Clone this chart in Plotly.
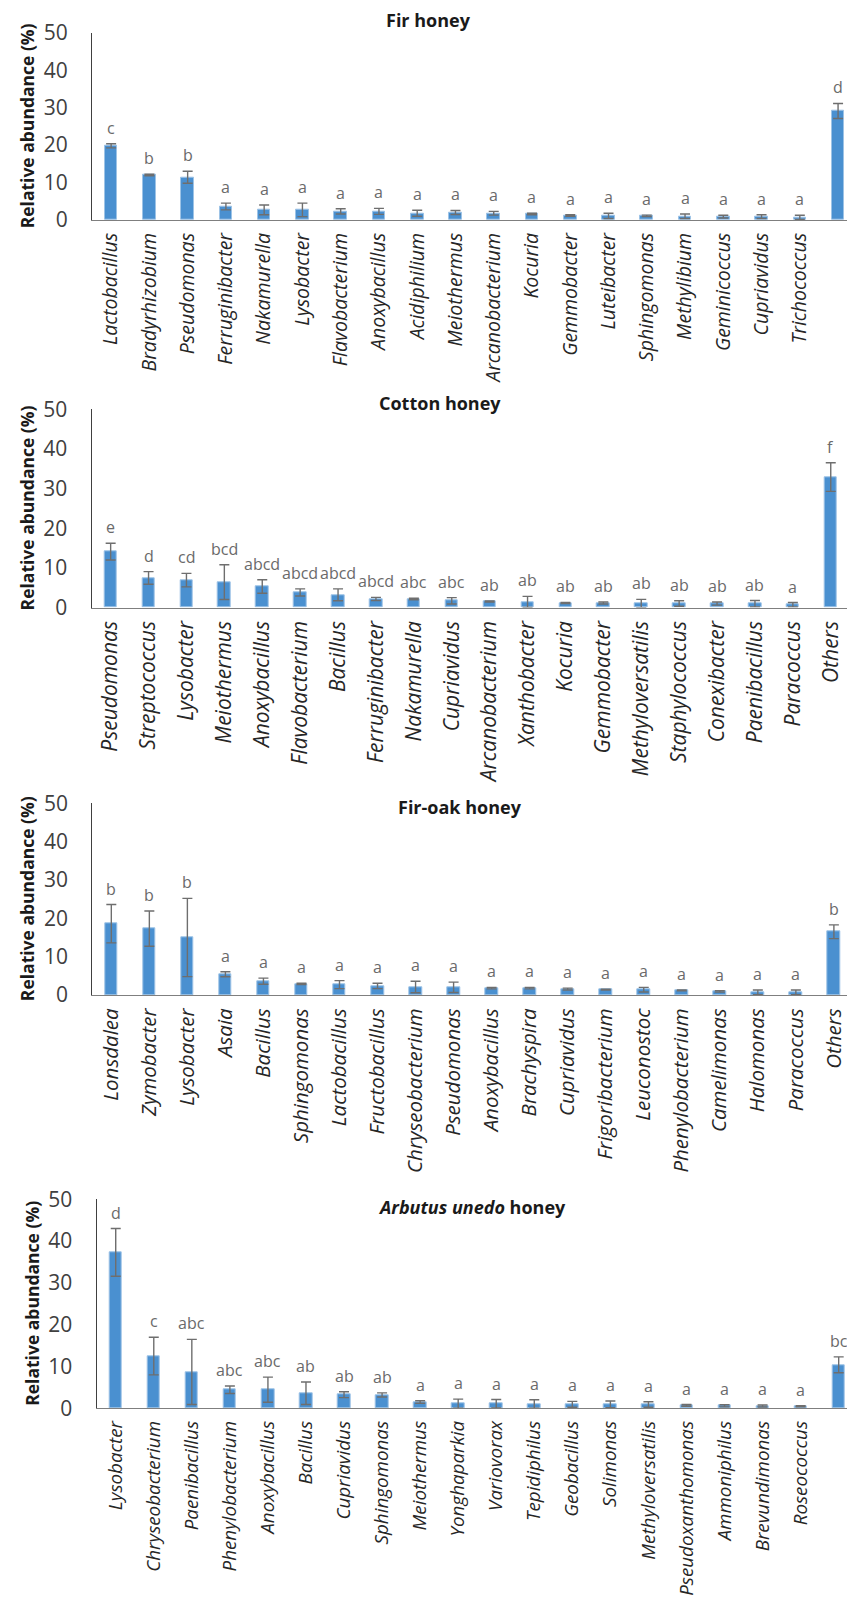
import plotly.graph_objects as go

# ---------------- data ----------------
fir_genera = ["Lactobacillus", "Bradyrhizobium", "Pseudomonas", "Ferruginibacter", "Nakamurella",
              "Lysobacter", "Flavobacterium", "Anoxybacillus", "Acidiphilium", "Meiothermus",
              "Arcanobacterium", "Kocuria", "Gemmobacter", "Luteibacter", "Sphingomonas",
              "Methylibium", "Geminicoccus", "Cupriavidus", "Trichococcus", "Others"]
fir_mean = [19.8, 12.0, 11.4, 3.6, 2.7, 2.7, 2.3, 2.3, 1.8, 2.0,
            1.8, 1.6, 1.2, 1.1, 1.1, 1.0, 0.9, 0.9, 0.7, 29.1]
fir_err = [0.55, 0.2, 1.6, 0.9, 1.3, 1.8, 0.7, 0.8, 0.8, 0.55,
           0.5, 0.2, 0.2, 0.7, 0.2, 0.6, 0.35, 0.5, 0.55, 2.0]
fir_letters = ["c", "b", "b", "a", "a", "a", "a", "a", "a", "a",
               "a", "a", "a", "a", "a", "a", "a", "a", "a", "d"]

cotton_genera = ["Pseudomonas", "Streptococcus", "Lysobacter", "Meiothermus", "Anoxybacillus",
                 "Flavobacterium", "Bacillus", "Ferruginibacter", "Nakamurella", "Cupriavidus",
                 "Arcanobacterium", "Xanthobacter", "Kocuria", "Gemmobacter", "Methyloversatilis",
                 "Staphylococcus", "Conexibacter", "Paenibacillus", "Paracoccus", "Others"]
cotton_mean = [14.1, 7.45, 6.9, 6.4, 5.3, 3.8, 3.2, 2.15, 2.15, 1.7,
               1.5, 1.4, 1.15, 1.15, 1.0, 1.0, 1.0, 0.95, 0.7, 32.9]
cotton_err = [2.1, 1.6, 1.7, 4.4, 1.7, 0.9, 1.5, 0.4, 0.2, 0.8,
              0.15, 1.4, 0.15, 0.25, 1.05, 0.7, 0.4, 0.8, 0.55, 3.6]
cotton_letters = ["e", "d", "cd", "bcd", "abcd", "abcd", "abcd", "abcd", "abc", "abc",
                  "ab", "ab", "ab", "ab", "ab", "ab", "ab", "ab", "a", "f"]

firoak_genera = ["Lonsdalea", "Zymobacter", "Lysobacter", "Asaia", "Bacillus",
                 "Sphingomonas", "Lactobacillus", "Fructobacillus", "Chryseobacterium", "Pseudomonas",
                 "Anoxybacillus", "Brachyspira", "Cupriavidus", "Frigoribacterium", "Leuconostoc",
                 "Phenylobacterium", "Camelimonas", "Halomonas", "Paracoccus", "Others"]
firoak_mean = [18.6, 17.3, 15.0, 5.4, 3.6, 2.9, 2.7, 2.35, 2.1, 2.0,
               1.8, 1.8, 1.55, 1.4, 1.4, 1.2, 0.95, 0.7, 0.7, 16.5]
firoak_err = [5.0, 4.6, 10.2, 0.65, 0.8, 0.15, 1.05, 0.7, 1.5, 1.35,
              0.2, 0.2, 0.25, 0.1, 0.6, 0.1, 0.2, 0.6, 0.6, 1.8]
firoak_letters = ["b", "b", "b", "a", "a", "a", "a", "a", "a", "a",
                  "a", "a", "a", "a", "a", "a", "a", "a", "a", "b"]

arbutus_genera = ["Lysobacter", "Chryseobacterium", "Paenibacillus", "Phenylobacterium", "Anoxybacillus",
                  "Bacillus", "Cupriavidus", "Sphingomonas", "Meiothermus", "Yonghaparkia",
                  "Variovorax", "Tepidiphilus", "Geobacillus", "Solimonas", "Methyloversatilis",
                  "Pseudoxanthomonas", "Ammoniphilus", "Brevundimonas", "Roseococcus", "Others"]
arbutus_mean = [37.3, 12.5, 8.7, 4.45, 4.45, 3.6, 3.25, 3.2, 1.5, 1.1,
                1.1, 1.05, 0.95, 0.95, 0.9, 0.7, 0.6, 0.55, 0.5, 10.4]
arbutus_err = [5.7, 4.5, 7.8, 0.9, 3.0, 2.7, 0.7, 0.5, 0.3, 1.1,
               1.0, 1.0, 0.7, 0.8, 0.65, 0.2, 0.25, 0.25, 0.15, 1.9]
arbutus_letters = ["d", "c", "abc", "abc", "abc", "ab", "ab", "ab", "a", "a",
                   "a", "a", "a", "a", "a", "a", "a", "a", "a", "bc"]

titles = ["<b>Fir honey</b>", "<b>Cotton honey</b>", "<b>Fir-oak honey</b>",
          "<b><i>Arbutus unedo</i> honey</b>"]
y_ticks = [0, 10, 20, 30, 40, 50]

# ---------------- layout geometry (pixels) ----------------
W, H = 847, 1610
FONT = "Open Sans"
panels = [
    dict(g=fir_genera, m=fir_mean, e=fir_err, l=fir_letters, y50=32.7, y0=220.0, xl=92.0, sp=38.26,
         tx=428, ty=20, yt=27, fs=19.5),
    dict(g=cotton_genera, m=cotton_mean, e=cotton_err, l=cotton_letters, y50=409.3, y0=607.5, xl=91.7, sp=37.9,
         tx=440, ty=403, yt=27, fs=21),
    dict(g=firoak_genera, m=firoak_mean, e=firoak_err, l=firoak_letters, y50=803.3, y0=995.0, xl=92.3, sp=38.03,
         tx=460, ty=807, yt=27, fs=20.5),
    dict(g=arbutus_genera, m=arbutus_mean, e=arbutus_err, l=arbutus_letters, y50=1199.3, y0=1408.3, xl=96.7, sp=38.05,
         tx=472, ty=1207, yt=32, fs=18.8),
]

fig = go.Figure()
annotations = []
layout_axes = {}

for i, p in enumerate(panels):
    n = i + 1
    xa = "x" if n == 1 else f"x{n}"
    ya = "y" if n == 1 else f"y{n}"
    fig.add_trace(go.Bar(
        x=list(range(len(p["g"]))), y=p["m"], xaxis=xa, yaxis=ya, width=0.33,
        marker=dict(color="#4a90d0", line=dict(color="#9dc3e6", width=1)),
        error_y=dict(type="data", array=p["e"], visible=True, color="#6e6e6e", thickness=1.4, width=5),
        showlegend=False, cliponaxis=False,
    ))
    xkey = "xaxis" if n == 1 else f"xaxis{n}"
    ykey = "yaxis" if n == 1 else f"yaxis{n}"
    layout_axes[xkey] = dict(
        domain=[p["xl"] / W, 1], range=[-0.5, -0.5 + (W - p["xl"]) / p["sp"]],
        anchor=ya, tickmode="array", tickvals=list(range(len(p["g"]))),
        ticktext=[f"<i>{g}</i>" for g in p["g"]], tickangle=-90,
        tickfont=dict(family=FONT, size=p["fs"], color="#262626"),
        showline=True, linecolor="#7f7f7f", linewidth=1.3, ticks="", showgrid=False,
        zeroline=False, fixedrange=True, ticklabelstandoff=4, automargin=False,
    )
    layout_axes[ykey] = dict(
        domain=[1 - p["y0"] / H, 1 - p["y50"] / H], range=[0, 50],
        anchor=xa, tickvals=y_ticks, tickfont=dict(family=FONT, size=21, color="#404040"),
        showline=True, linecolor="#404040", linewidth=1.3, ticks="", showgrid=False,
        zeroline=False, ticklabelstandoff=19, automargin=False,
    )
    # panel title
    annotations.append(dict(xref="paper", yref="paper", x=p["tx"] / W, y=1 - p["ty"] / H,
                            text=titles[i], showarrow=False, xanchor="center", yanchor="middle",
                            font=dict(family=FONT, size=18, color="#1a1a1a")))
    # y axis title
    annotations.append(dict(xref="paper", yref="paper", x=p["yt"] / W,
                            y=1 - (p["y0"] + p["y50"]) / 2 / H, text="<b>Relative abundance (%)</b>",
                            textangle=-90, showarrow=False, xanchor="center", yanchor="middle",
                            font=dict(family=FONT, size=17.5, color="#1a1a1a")))
    # significance letters
    for k, (mv, ev, lt) in enumerate(zip(p["m"], p["e"], p["l"])):
        annotations.append(dict(xref=xa, yref=ya, x=k, y=mv + ev, text=lt, showarrow=False,
                                xanchor="center", yanchor="bottom", yshift=3,
                                font=dict(family=FONT, size=16, color="#6a6a6a")))

fig.update_layout(
    width=W, height=H, margin=dict(l=0, r=0, t=0, b=0, autoexpand=False),
    paper_bgcolor="white", plot_bgcolor="white",
    annotations=annotations, bargap=0, **layout_axes,
)

fig.write_html("out.html", config={"displayModeBar": False}, post_script=(
    "document.body.style.margin='0';document.body.style.overflow='hidden';"
    "document.documentElement.style.overflow='hidden';"))
